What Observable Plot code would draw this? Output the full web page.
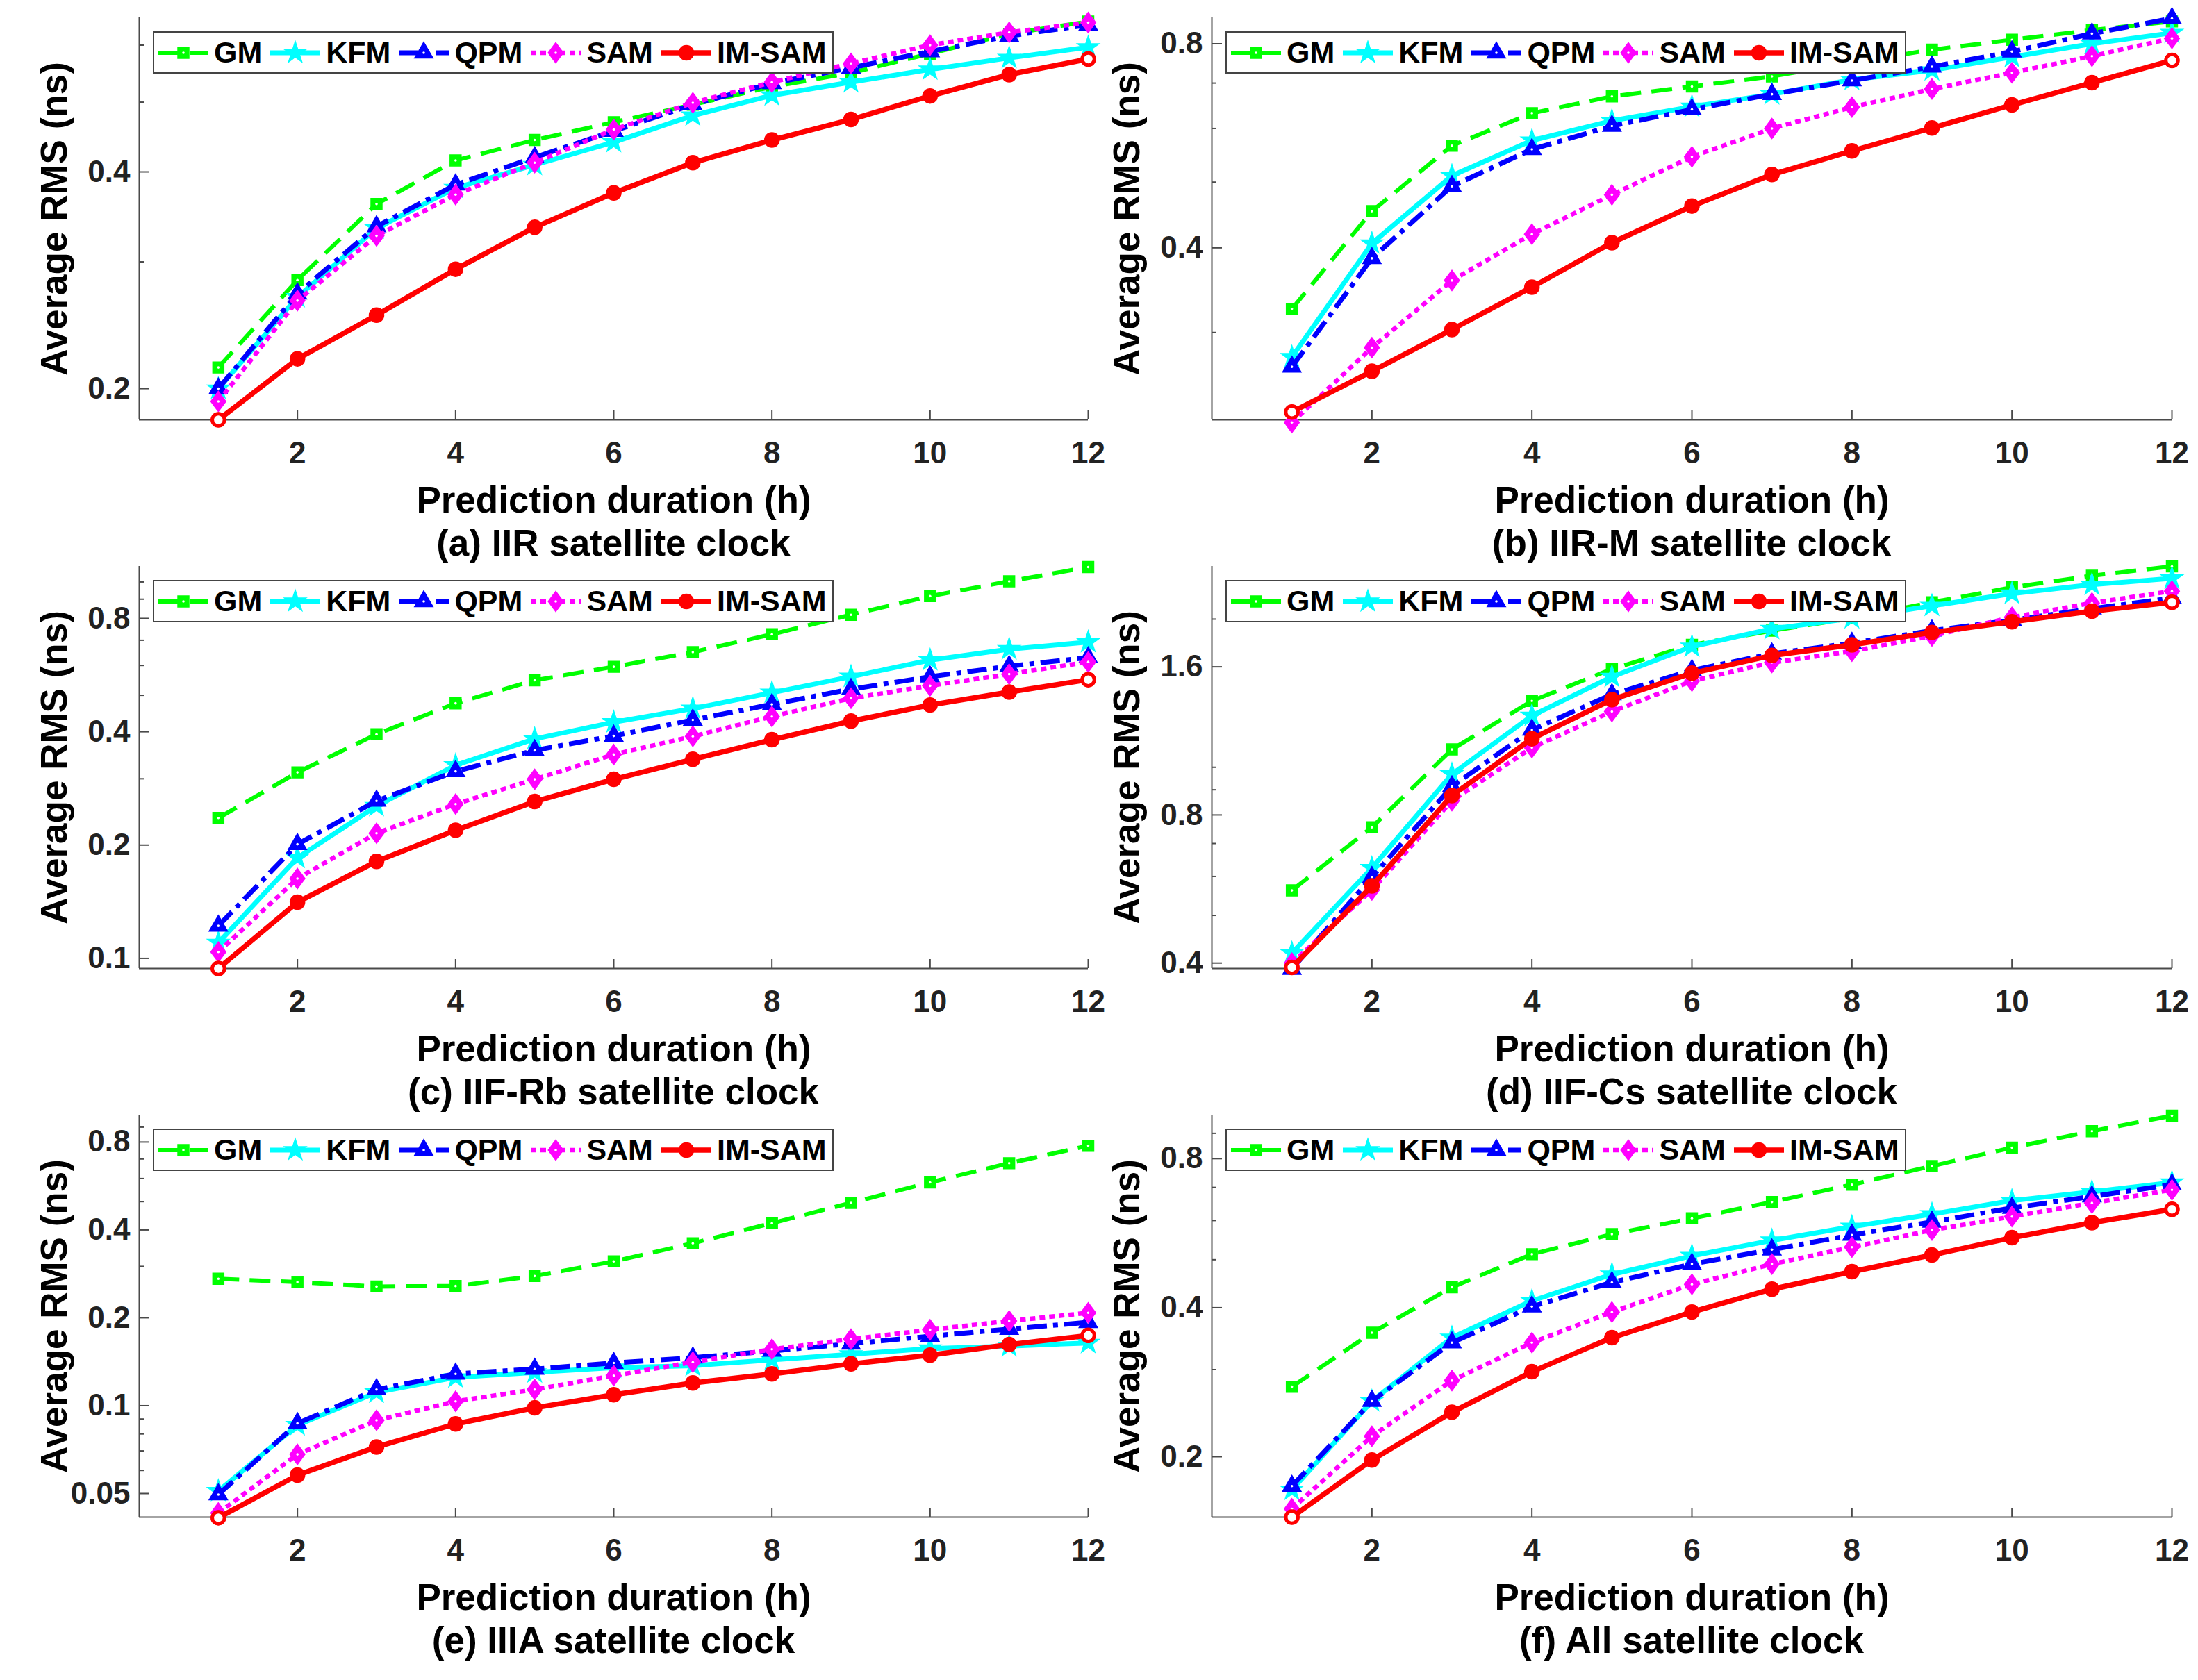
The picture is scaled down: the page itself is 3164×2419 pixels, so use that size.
<!DOCTYPE html>
<html>
<head>
<meta charset="utf-8">
<script src="https://cdn.jsdelivr.net/npm/d3@7"></script>
<script src="https://cdn.jsdelivr.net/npm/@observablehq/plot@0.6"></script>
<style>
  body { margin: 0; background: #fff; width: 3164px; height: 2419px; position: relative;
         font-family: "Liberation Sans", Arial, sans-serif; font-weight: bold; }
  .panel { position: absolute; }
  .legend { position: absolute; display: flex; align-items: center; height: 57px;
            border: 2px solid #444; background: #fff; padding: 0 4px 0 6px;
            font-size: 43px; line-height: 1; color: #000; }
  .legend span { margin: 0 12px 0 8px; }
  .legend span:last-child { margin-right: 4px; }
  .caption { position: absolute; text-align: center; font-size: 53px; line-height: 53px; color: #000; }
</style>
</head>
<body>
<script>
const hours = [1, 2, 3, 4, 5, 6, 7, 8, 9, 10, 11, 12];
const methods = ["GM", "KFM", "QPM", "SAM", "IM-SAM"];
const xTicks = [2, 4, 6, 8, 10, 12];

// (a) IIR
const iirGM    = [0.214, 0.283, 0.361, 0.415, 0.443, 0.469, 0.496, 0.525, 0.549, 0.584, 0.622, 0.647];
const iirKFM   = [0.200, 0.268, 0.334, 0.380, 0.409, 0.440, 0.479, 0.511, 0.533, 0.555, 0.576, 0.596];
const iirQPM   = [0.200, 0.271, 0.336, 0.384, 0.419, 0.456, 0.496, 0.531, 0.558, 0.588, 0.618, 0.640];
const iirSAM   = [0.192, 0.265, 0.326, 0.372, 0.412, 0.458, 0.499, 0.533, 0.566, 0.600, 0.625, 0.645];
const iirIMSAM = [0.181, 0.220, 0.253, 0.293, 0.335, 0.374, 0.412, 0.443, 0.473, 0.510, 0.546, 0.574];
const iirDomain = [0.181, 0.655];
const iirMajor = [0.2, 0.4];
const iirMinor = [0.3, 0.5, 0.6];

// (b) IIR-M
const iirmGM    = [0.325, 0.453, 0.566, 0.632, 0.669, 0.692, 0.716, 0.750, 0.784, 0.811, 0.838, 0.863];
const iirmKFM   = [0.276, 0.406, 0.511, 0.576, 0.616, 0.646, 0.674, 0.708, 0.731, 0.765, 0.800, 0.830];
const iirmQPM   = [0.267, 0.386, 0.493, 0.559, 0.605, 0.640, 0.674, 0.706, 0.740, 0.779, 0.828, 0.872];
const iirmSAM   = [0.221, 0.285, 0.358, 0.419, 0.479, 0.545, 0.600, 0.645, 0.686, 0.725, 0.767, 0.815];
const iirmIMSAM = [0.229, 0.263, 0.303, 0.350, 0.407, 0.461, 0.513, 0.556, 0.601, 0.650, 0.701, 0.756];
const iirmDomain = [0.223, 0.874];
const iirmMajor = [0.4, 0.8];
const iirmMinor = [0.3, 0.5, 0.6, 0.7];

// (c) IIF-Rb
const rbGM    = [0.236, 0.312, 0.394, 0.476, 0.548, 0.595, 0.651, 0.726, 0.818, 0.917, 1.004, 1.095];
const rbKFM   = [0.110, 0.185, 0.254, 0.326, 0.383, 0.424, 0.461, 0.508, 0.560, 0.620, 0.663, 0.692];
const rbQPM   = [0.122, 0.201, 0.262, 0.314, 0.357, 0.390, 0.430, 0.473, 0.519, 0.560, 0.597, 0.630];
const rbSAM   = [0.104, 0.163, 0.215, 0.257, 0.299, 0.348, 0.389, 0.439, 0.491, 0.530, 0.569, 0.613];
const rbIMSAM = [0.094, 0.141, 0.181, 0.219, 0.261, 0.299, 0.338, 0.381, 0.427, 0.471, 0.510, 0.550];
const rbDomain = [0.094, 1.10];
const rbMajor = [0.1, 0.2, 0.4, 0.8];
const rbMinor = [0.3, 0.5, 0.6, 0.7, 0.9, 1.0];

// (d) IIF-Cs
const csGM    = [0.562, 0.755, 1.087, 1.364, 1.584, 1.773, 1.895, 2.008, 2.164, 2.320, 2.450, 2.560];
const csKFM   = [0.419, 0.624, 0.968, 1.273, 1.527, 1.759, 1.911, 2.008, 2.128, 2.254, 2.350, 2.420];
const csQPM   = [0.389, 0.598, 0.914, 1.191, 1.406, 1.574, 1.701, 1.788, 1.895, 1.990, 2.100, 2.207];
const csSAM   = [0.400, 0.563, 0.855, 1.096, 1.298, 1.497, 1.632, 1.721, 1.848, 2.018, 2.157, 2.280];
const csIMSAM = [0.392, 0.574, 0.876, 1.143, 1.372, 1.553, 1.687, 1.773, 1.879, 1.975, 2.076, 2.164];
const csDomain = [0.39, 2.56];
const csMajor = [0.4, 0.8, 1.6];
const csMinor = [0.5, 0.6, 0.7, 0.9, 1.0, 2.0];

// (e) IIIA
const iiiaGM    = [0.272, 0.265, 0.256, 0.257, 0.278, 0.312, 0.360, 0.422, 0.495, 0.582, 0.677, 0.777];
const iiiaKFM   = [0.051, 0.0858, 0.111, 0.125, 0.130, 0.135, 0.137, 0.1435, 0.150, 0.157, 0.160, 0.164];
const iiiaQPM   = [0.0496, 0.087, 0.1136, 0.1285, 0.1335, 0.140, 0.146, 0.154, 0.163, 0.173, 0.183, 0.193];
const iiiaSAM   = [0.0429, 0.0681, 0.0891, 0.1035, 0.1136, 0.1267, 0.141, 0.156, 0.169, 0.182, 0.195, 0.208];
const iiiaIMSAM = [0.0413, 0.0578, 0.0722, 0.0866, 0.0983, 0.109, 0.1196, 0.1285, 0.139, 0.149, 0.162, 0.174];
const iiiaDomain = [0.0415, 0.99];
const iiiaMajor = [0.05, 0.1, 0.2, 0.4, 0.8];
const iiiaMinor = [0.06, 0.07, 0.08, 0.09, 0.3, 0.5, 0.6, 0.7, 0.9];

// (f) All
const allGM    = [0.277, 0.356, 0.440, 0.513, 0.563, 0.606, 0.654, 0.709, 0.773, 0.842, 0.909, 0.977];
const allKFM   = [0.1715, 0.259, 0.348, 0.413, 0.467, 0.509, 0.547, 0.583, 0.618, 0.658, 0.686, 0.716];
const allQPM   = [0.1745, 0.259, 0.340, 0.402, 0.450, 0.490, 0.524, 0.561, 0.596, 0.636, 0.671, 0.709];
const allSAM   = [0.157, 0.220, 0.285, 0.340, 0.392, 0.446, 0.490, 0.530, 0.574, 0.611, 0.651, 0.692];
const allIMSAM = [0.151, 0.197, 0.246, 0.297, 0.348, 0.392, 0.436, 0.473, 0.511, 0.554, 0.594, 0.632];
const allDomain = [0.151, 0.98];
const allMajor = [0.2, 0.4, 0.8];
const allMinor = [0.3, 0.5, 0.6, 0.7, 0.9];

const panels = [
  { caption: "(a) IIR satellite clock",    series: [iirGM, iirKFM, iirQPM, iirSAM, iirIMSAM],      domain: iirDomain,  major: iirMajor,  minor: iirMinor },
  { caption: "(b) IIR-M satellite clock",  series: [iirmGM, iirmKFM, iirmQPM, iirmSAM, iirmIMSAM], domain: iirmDomain, major: iirmMajor, minor: iirmMinor },
  { caption: "(c) IIF-Rb satellite clock", series: [rbGM, rbKFM, rbQPM, rbSAM, rbIMSAM],           domain: rbDomain,   major: rbMajor,   minor: rbMinor },
  { caption: "(d) IIF-Cs satellite clock", series: [csGM, csKFM, csQPM, csSAM, csIMSAM],           domain: csDomain,   major: csMajor,   minor: csMinor },
  { caption: "(e) IIIA satellite clock",   series: [iiiaGM, iiiaKFM, iiiaQPM, iiiaSAM, iiiaIMSAM], domain: iiiaDomain, major: iiiaMajor, minor: iiiaMinor },
  { caption: "(f) All satellite clock",    series: [allGM, allKFM, allQPM, allSAM, allIMSAM],      domain: allDomain,  major: allMajor,  minor: allMinor },
];

// matlab-ish diamond: a bit taller than wide
const diamondTall = {
  draw(ctx, size) {
    const w = Math.sqrt(size / 2.7), h = 1.35 * w;
    ctx.moveTo(0, -h); ctx.lineTo(w, 0); ctx.lineTo(0, h); ctx.lineTo(-w, 0); ctx.closePath();
  }
};

const styles = [
  { color: "#00ff00", width: 6,   dash: "30,15",     symbol: "square",    d3sym: d3.symbolSquare,   r: 9,    pip: true },
  { color: "#00ffff", width: 7,   dash: null,        symbol: "star",      d3sym: d3.symbolStar,     r: 9.8,  pip: false },
  { color: "#0000ff", width: 7,   dash: "28,9,7,9",  symbol: "triangle",  d3sym: d3.symbolTriangle, r: 9.8,  pip: true },
  { color: "#ff00ff", width: 6.5, dash: "8,6",       symbol: diamondTall, d3sym: diamondTall,       r: 10,   pip: true },
  { color: "#ff0000", width: 7.5, dash: null,        symbol: "circle",    d3sym: d3.symbolCircle,   r: 10.5, pip: false },
];

const AXIS = "#4a4a4a";
const TEXT = "#222";
const PLOT_H = 579;

function legendBox(left, top) {
  const box = document.createElement("div");
  box.className = "legend";
  box.style.left = left + "px";
  box.style.top = top + "px";
  methods.forEach((m, i) => {
    const s = styles[i];
    const path = d3.symbol(s.d3sym, Math.PI * s.r * s.r)();
    const svg = d3.create("svg").attr("width", 72).attr("height", 40);
    svg.append("line").attr("x1", 0).attr("x2", 72).attr("y1", 20).attr("y2", 20)
      .attr("stroke", s.color).attr("stroke-width", s.width)
      .attr("stroke-dasharray", s.dash).attr("stroke-linecap", "butt");
    svg.append("path").attr("d", path).attr("transform", "translate(36,20)")
      .attr("fill", s.color).attr("stroke", s.color).attr("stroke-width", 1.5);
    if (s.pip) svg.append("circle").attr("cx", 36).attr("cy", 20).attr("r", 1.8).attr("fill", "#fff");
    box.append(svg.node());
    const t = document.createElement("span");
    t.textContent = m;
    box.append(t);
  });
  return box;
}

panels.forEach((p, i) => {
  const col = i % 2, row = Math.floor(i / 2);
  const left = col ? 1580 : 0;
  const top = row * 790;
  const mL = col ? 164 : 200;
  const plotW = col ? 1382 : 1366;
  const W = col ? 1584 : 1600;

  const marks = [
    Plot.ruleX([0], { stroke: AXIS, strokeWidth: 2 }),
    Plot.ruleY([p.domain[0]], { stroke: AXIS, strokeWidth: 2 }),
    Plot.axisX({ ticks: xTicks, tickSize: -13, tickFormat: () => "", label: null, stroke: AXIS, strokeWidth: 2 }),
    Plot.axisX({ ticks: xTicks, tickSize: 0, tickPadding: 31, tickFormat: d => String(d), label: null, fill: TEXT, fontSize: 44 }),
    Plot.axisY({ ticks: p.major, tickSize: -15, tickFormat: () => "", label: null, stroke: AXIS, strokeWidth: 2 }),
    Plot.axisY({ ticks: p.minor, tickSize: -7, tickFormat: () => "", label: null, stroke: AXIS, strokeWidth: 2 }),
    // y tick labels as a plain text mark on the y scale
    Plot.text(p.major, { y: d => d, text: d => String(d), frameAnchor: "left", dx: -13,
      textAnchor: "end", lineAnchor: "middle", fontSize: 44, fontWeight: "bold", fill: TEXT }),
    Plot.text(["Average RMS (ns)"], { text: d => d, frameAnchor: "left", rotate: -90, dx: -105,
      lineAnchor: "bottom", textAnchor: "middle", fontSize: 53, fontWeight: "bold", fill: "#000" }),
    Plot.text(["Prediction duration (h)"], { text: d => d, frameAnchor: "bottom", dy: 133,
      lineAnchor: "bottom", textAnchor: "middle", fontSize: 53, fontWeight: "bold", fill: "#000" }),
  ];

  p.series.forEach((vals, k) => {
    const s = styles[k];
    const rows = hours.map((h, j) => ({ hour: h, rms: vals[j], method: methods[k] }));
    marks.push(Plot.line(rows, { x: "hour", y: "rms", stroke: s.color, strokeWidth: s.width,
      strokeDasharray: s.dash, strokeLinecap: "butt", strokeLinejoin: "miter" }));
    marks.push(Plot.dot(rows, { x: "hour", y: "rms", symbol: s.symbol, r: s.r,
      fill: s.color, stroke: s.color, strokeWidth: 1.5 }));
    if (s.pip) marks.push(Plot.dot(rows, { x: "hour", y: "rms", r: 1.8, fill: "#fff" }));
    if (methods[k] === "IM-SAM") {
      const ends = rows.filter(d => d.hour === 1 || d.hour === 12);
      marks.push(Plot.dot(ends, { x: "hour", y: "rms", r: 8.5, fill: "#fff", stroke: s.color, strokeWidth: 4.5 }));
    }
  });

  const chart = Plot.plot({
    width: W,
    height: 25 + PLOT_H + 150,
    marginTop: 25,
    marginBottom: 150,
    marginLeft: mL,
    marginRight: W - mL - plotW,
    style: { fontFamily: "'Liberation Sans', Arial, sans-serif", fontWeight: "bold", fontSize: "44px",
             background: "transparent", overflow: "visible" },
    x: { domain: [0, 12], label: null },
    y: { type: "log", domain: p.domain, label: null },
    marks
  });

  const panel = document.createElement("div");
  panel.className = "panel";
  panel.style.left = left + "px";
  panel.style.top = top + "px";
  panel.style.width = W + "px";
  panel.append(chart);
  panel.append(legendBox(mL + 20, 45));
  const cap = document.createElement("div");
  cap.className = "caption";
  cap.style.left = mL + "px";
  cap.style.width = plotW + "px";
  cap.style.top = (25 + PLOT_H + 151) + "px";
  cap.textContent = p.caption;
  panel.append(cap);
  document.body.append(panel);
});
</script>
</body>
</html>
